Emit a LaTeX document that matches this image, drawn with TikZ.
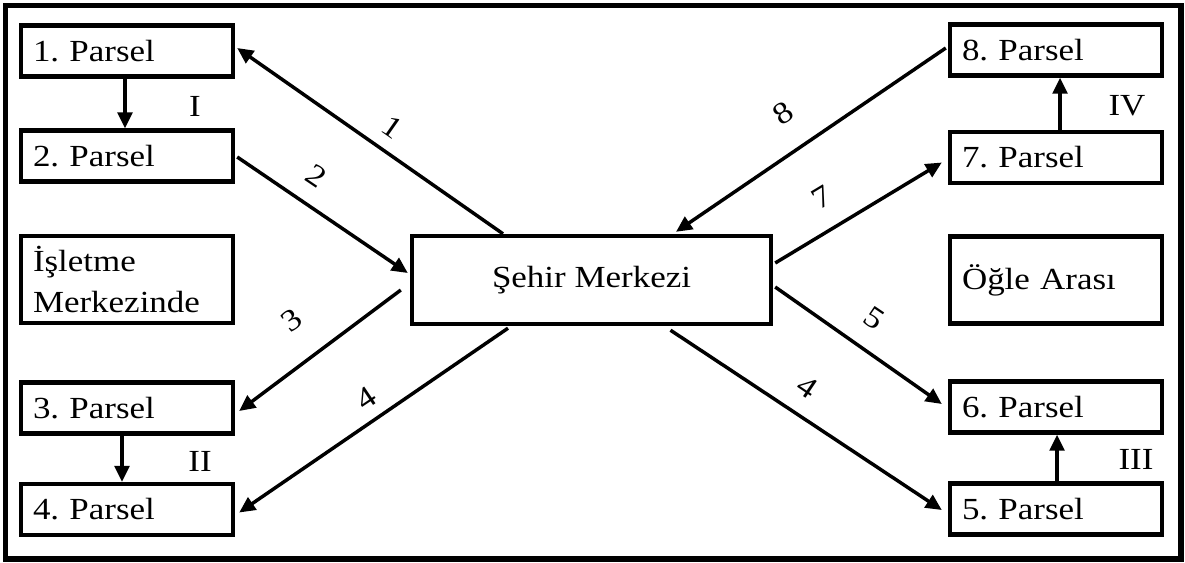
\documentclass[tikz,border=0pt]{standalone}
\usepackage{fontspec}
\setmainfont{Liberation Serif}[FakeStretch=1.14]
\usetikzlibrary{arrows.meta,calc}
\frenchspacing
\begin{document}
\begin{tikzpicture}[x=0.75pt,y=-0.75pt,
  txt/.style={font=\fontsize{23}{30.75}\selectfont\frenchspacing},
  box/.style={txt, draw, line width=3.3pt, rectangle, inner xsep=9pt, inner ysep=0pt,
    minimum width=159pt, minimum height=38.25pt, text width=141pt, align=left},
  bigbox/.style={box, minimum height=65.25pt},
  cbox/.style={txt, draw, line width=3.3pt, rectangle, inner sep=0pt,
    minimum width=269.25pt, minimum height=66pt, align=center},
  conn/.style={line width=2.6pt},
  arr/.style={conn, -{Triangle[length=12pt,width=11pt]}},
  lab/.style={txt, inner sep=0pt}
]
\useasboundingbox (0,0) rectangle (1185,562);
\draw[line width=3.9pt] (5.5,5.5) rectangle (1181,559);

% left column
\node[box] (p1) at (127,51) {1. Parsel};
\node[box] (p2) at (127,156) {2. Parsel};
\node[bigbox] (isl) at (127,279.5) {İşletme\\Merkezinde};
\node[box] (p3) at (127,408) {3. Parsel};
\node[box] (p4) at (127,509.5) {4. Parsel};

% right column
\node[box] (p8) at (1056,50) {8. Parsel};
\node[box] (p7) at (1056,157.5) {7. Parsel};
\node[bigbox] (ogle) at (1056,280) {Öğle Arası};
\node[box] (p6) at (1056,407) {6. Parsel};
\node[box] (p5) at (1056,509) {5. Parsel};

% centre
\node[cbox] (c) at (591.5,280) {Şehir Merkezi};

% vertical arrows
\draw[arr] ($(p1.south)+(-2,0)$) -- ($(p2.north)+(-2,0)$);
\draw[arr] ($(p3.south)+(-5,0)$) -- ($(p4.north)+(-5,0)$);
\draw[arr] ($(p5.north)+(1,0)$) -- ($(p6.south)+(1,0)$);
\draw[arr] ($(p7.north)+(4,0)$) -- ($(p8.south)+(4,0)$);

% diagonal connectors
\draw[arr] ($(c.north)+(-88.5,0)$) -- ($(p1.east)+(2,-3)$);
\draw[arr] ($(p2.east)+(2,1)$) -- ($(c.west)+(-2,-7)$);
\draw[arr] ($(c.west)+(-9,10)$) -- ($(p3.east)+(4,3)$);
\draw[arr] ($(c.south)+(-83.5,2)$) -- ($(p4.east)+(4,3)$);
\draw[arr] ($(p8.west)+(-2,-2)$) -- ($(c.north)+(84.5,-2)$);
\draw[arr] ($(c.east)+(2,-17)$) -- ($(p7.west)+(-6,5)$);
\draw[arr] ($(c.east)+(2,7)$) -- ($(p6.west)+(-6,-3)$);
\draw[arr] ($(c.south)+(79,4)$) -- ($(p5.west)+(-6,1)$);

% connector labels
\node[lab, rotate=-35] (n1) at (392,127) {1};
\node[lab, rotate=-34] (n2) at (316,176) {2};
\node[lab, rotate=36] (n3) at (292,320) {3};
\node[lab, rotate=34] (n4l) at (366,398) {4};
\node[lab, rotate=34] (n8) at (783,113) {8};
\node[lab, rotate=31] (n7) at (822,197) {7};
\node[lab, rotate=-34] (n5) at (874,318) {5};
\node[lab, rotate=-34] (n4r) at (807,387) {4};

% group numerals
\node[lab] (g1) at (195,106) {I};
\node[lab] (g2) at (200,461) {II};
\node[lab] (g3) at (1136,459) {III};
\node[lab] (g4) at (1127,106) {IV};
\end{tikzpicture}
\end{document}
